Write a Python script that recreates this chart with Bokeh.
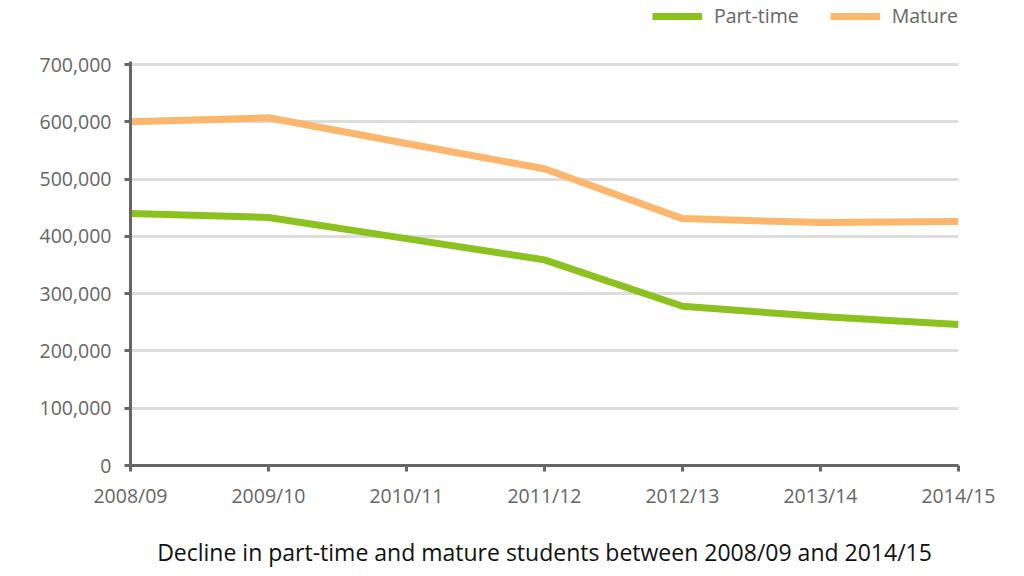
from bokeh.plotting import figure
from bokeh.models import Range1d, FixedTicker, NumeralTickFormatter, Legend, LegendItem
from bokeh.embed import file_html
from bokeh.resources import INLINE

years = ["2008/09", "2009/10", "2010/11", "2011/12", "2012/13", "2013/14", "2014/15"]
part_time = [440000, 433000, 396000, 359000, 278000, 260000, 246000]
mature = [600000, 607000, 562000, 518000, 431000, 424000, 426000]
y_ticks = [0, 100000, 200000, 300000, 400000, 500000, 600000, 700000]
caption = "Decline in part-time and mature students between 2008/09 and 2014/15"

xs = list(range(len(years)))
FONT = "Open Sans"
GRAY = "#666666"

# frame spans the whole top area so the legend can sit inside it;
# the axis top (700,000) lands 64px below the top edge
H, BOTTOM = 574, 109
frame_h = H - BOTTOM
y_top = y_ticks[-1] * frame_h / (frame_h - 64)

p = figure(width=1000, height=H, output_backend="svg", toolbar_location=None,
           x_range=Range1d(0, len(years) - 1), y_range=Range1d(0, y_top),
           min_border_left=130, min_border_right=42, min_border_top=0,
           min_border_bottom=BOTTOM)
p.outline_line_color = None
p.background_fill_color = "white"

p.xgrid.grid_line_color = None
p.ygrid.grid_line_color = "#dddddd"
p.ygrid.grid_line_width = 3
p.ygrid.ticker = FixedTicker(ticks=y_ticks)

p.yaxis.ticker = FixedTicker(ticks=y_ticks)
p.yaxis.bounds = (0, y_ticks[-1] + 5000)
p.yaxis.formatter = NumeralTickFormatter(format="0,0")
p.xaxis.ticker = FixedTicker(ticks=xs)
p.xaxis.major_label_overrides = {i: y for i, y in enumerate(years)}

for ax in (p.xaxis, p.yaxis):
    ax.axis_line_color = GRAY
    ax.axis_line_width = 3
    ax.major_tick_line_color = GRAY
    ax.major_tick_line_width = 3
    ax.major_tick_out = 6
    ax.major_tick_in = 0
    ax.minor_tick_line_color = None
    ax.major_label_text_font = FONT
    ax.major_label_text_font_size = "19.5px"
    ax.major_label_text_color = GRAY
p.yaxis.major_label_standoff = 13
p.xaxis.major_label_standoff = 10

p.xaxis.axis_label = caption
p.xaxis.axis_label_text_font = FONT
p.xaxis.axis_label_text_font_size = "23px"
p.xaxis.axis_label_text_font_style = "normal"
p.xaxis.axis_label_text_color = "#111111"
p.xaxis.axis_label_standoff = 24

r_pt = p.line(xs, part_time, line_color="#8CC21F", line_width=7, line_join="round")
r_m = p.line(xs, mature, line_color="#FDB66C", line_width=7, line_join="round")

legend = Legend(items=[LegendItem(label="Part-time", renderers=[r_pt]),
                       LegendItem(label="Mature", renderers=[r_m])],
                orientation="horizontal", location=(522, 436),
                glyph_width=50, glyph_height=20, label_standoff=12, spacing=31,
                label_text_font=FONT, label_text_font_size="19.5px",
                label_text_color=GRAY, border_line_color=None,
                background_fill_alpha=0, margin=0, padding=0)
p.add_layout(legend)

open("out.html", "w").write(file_html(p, INLINE))
